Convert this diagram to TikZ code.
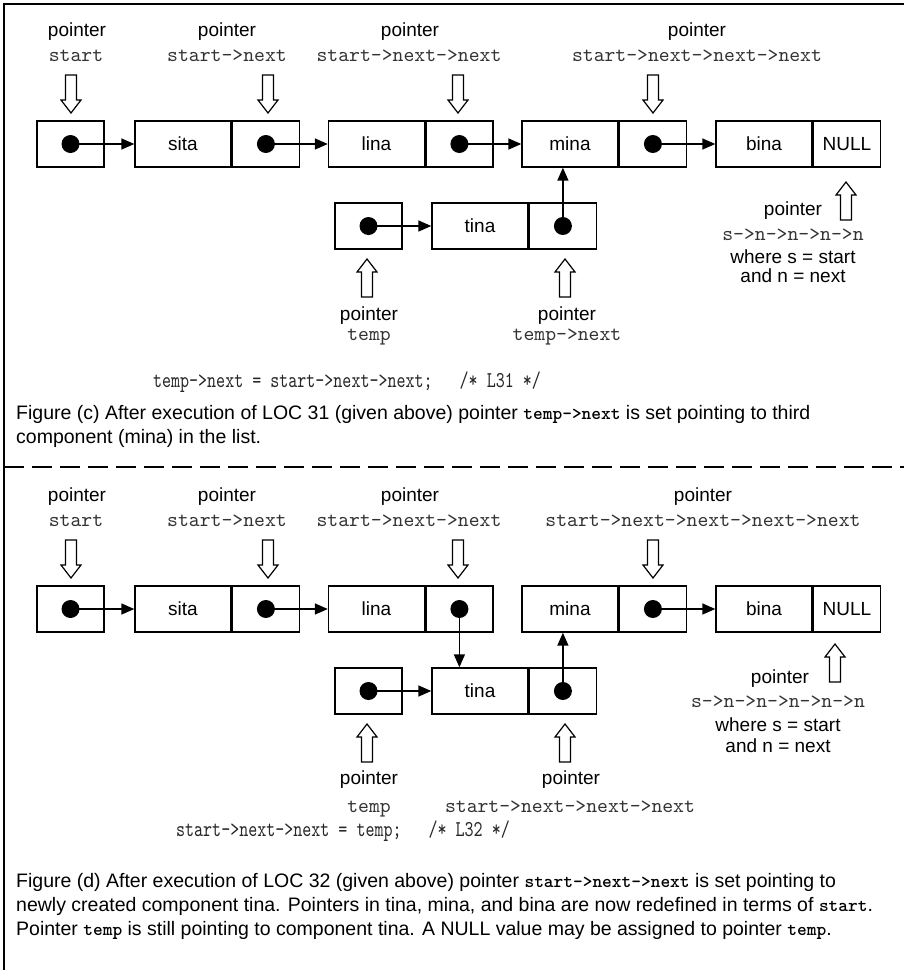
\documentclass[tikz,border=0pt]{standalone}
\usepackage{fontspec}
\setmainfont{Liberation Sans}
\newfontfamily\lmono{lmmono10-regular.otf}
\newfontfamily\codefont[FakeStretch=0.76]{lmmono10-regular.otf}
\newfontfamily\capmono{lmmonolt10-bold.otf}
\usetikzlibrary{arrows.meta}
\tikzset{
  hdown/.pic={\draw[line width=1.2pt, fill=white] (-5.5,0) -- (-5.5,25) -- (-10,25) -- (0,38) -- (10,25) -- (5.5,25) -- (5.5,0) -- cycle;},
  hup/.pic={\draw[line width=1.2pt, fill=white] (-5.5,0) -- (-5.5,-25) -- (-10,-25) -- (0,-38) -- (10,-25) -- (5.5,-25) -- (5.5,0) -- cycle;}
}
\newcommand{\cm}[1]{{\capmono\fontsize{18.5}{20}\selectfont #1}}
\begin{document}
\begin{tikzpicture}[x=1pt,y=-1pt,
  cell/.style={draw, line width=1.4pt, minimum height=46pt, inner sep=0pt, font=\fontsize{19}{22}\selectfont},
  dcell/.style={cell, minimum width=96pt},
  pcell/.style={cell, minimum width=67pt},
  dot/.style={circle, fill=black, minimum size=18pt, inner sep=0pt},
  ptr/.style={line width=1.5pt, -{Triangle[length=13pt,width=11pt]}},
  lab/.style={anchor=base, inner sep=0pt, font=\fontsize{19}{22}\selectfont},
  mlab/.style={anchor=base, inner sep=0pt, text=black!80, font=\lmono\fontsize{20.7}{22}\selectfont},
  code/.style={anchor=base, inner sep=0pt, text=black!85, font=\codefont\fontsize{22.6}{24}\selectfont},
  capt/.style={anchor=base west, inner sep=0pt, font=\fontsize{19.5}{22}\selectfont},
]
\useasboundingbox (0,0) rectangle (904,970);
% frame and separator
\draw[line width=2pt] (4,970) -- (4,4) -- (904,4);
\draw[line width=2.5pt, dash pattern=on 20pt off 8pt] (4,467) -- (904,467);

% ================= TOP PANEL =================
\node[lab] (tp1) at (77,36) {pointer};
\node[mlab] (tm1) at (76,61) {start};
\node[lab] (tp2) at (227,36) {pointer};
\node[mlab] (tm2) at (227,61) {start->next};
\node[lab] (tp3) at (410,36) {pointer};
\node[mlab] (tm3) at (409,61) {start->next->next};
\node[lab] (tp4) at (697,36) {pointer};
\node[mlab] (tm4) at (697,61) {start->next->next->next};
\pic at (71,75) {hdown};
\pic at (268,75) {hdown};
\pic at (458,75) {hdown};
\pic at (653,75) {hdown};

\node[pcell] (st1) at (70.5,144) {};
\node[dcell] (sitaD1) at (183,144) {sita};
\node[pcell, anchor=west] (sitaP1) at (sitaD1.east) {};
\node[dcell] (linaD1) at (376.5,144) {lina};
\node[pcell, anchor=west] (linaP1) at (linaD1.east) {};
\node[dcell] (minaD1) at (570,144) {mina};
\node[pcell, anchor=west] (minaP1) at (minaD1.east) {};
\node[dcell] (binaD1) at (764,144) {bina};
\node[pcell, anchor=west] (binaP1) at (binaD1.east) {NULL};
\node[pcell] (temp1) at (368.5,226) {};
\node[dcell] (tinaD1) at (480,226) {tina};
\node[pcell, anchor=west] (tinaP1) at (tinaD1.east) {};

\node[dot] (dst1) at (st1.center) {};
\node[dot] (dsita1) at (sitaP1.center) {};
\node[dot] (dlina1) at (linaP1.center) {};
\node[dot] (dmina1) at (minaP1.center) {};
\node[dot] (dtemp1) at (temp1.center) {};
\node[dot] (dtina1) at (tinaP1.center) {};

\draw[ptr] (dst1.center) -- (sitaD1.west);
\draw[ptr] (dsita1.center) -- (linaD1.west);
\draw[ptr] (dlina1.center) -- (minaD1.west);
\draw[ptr] (dmina1.center) -- (binaD1.west);
\draw[ptr] (dtemp1.center) -- (tinaD1.west);
\draw[ptr] (dtina1.center) -- (dtina1 |- minaD1.south);

\pic at (367,297) {hup};
\pic at (565,297) {hup};
\pic at (846,220) {hup};
\node[lab] (tp5) at (369,320) {pointer};
\node[mlab] (tm5) at (369,340) {temp};
\node[lab] (tp6) at (567,320) {pointer};
\node[mlab] (tm6) at (567,340) {temp->next};
\node[lab] (tp7) at (793,215) {pointer};
\node[mlab] (tm7) at (793,240) {s->n->n->n->n};
\node[lab] (tw1) at (793,263) {where s = start};
\node[lab] (ta1) at (793,282) {and n = next};

\node[code] (code1) at (347,387) {temp->next~=~start->next->next;~~~/*~L31~*/};
\node[capt] (c1a) at (16,419) {Figure (c) After execution of LOC 31 (given above) pointer \cm{temp->next} is set pointing to third};
\node[capt] (c1b) at (16,443) {component (mina) in the list.};

% ================= BOTTOM PANEL =================
\node[lab] (bp1) at (77,501) {pointer};
\node[mlab] (bm1) at (76,526) {start};
\node[lab] (bp2) at (227,501) {pointer};
\node[mlab] (bm2) at (227,526) {start->next};
\node[lab] (bp3) at (410,501) {pointer};
\node[mlab] (bm3) at (409,526) {start->next->next};
\node[lab] (bp4) at (703,501) {pointer};
\node[mlab] (bm4) at (703,526) {start->next->next->next->next};
\pic at (71,540) {hdown};
\pic at (268,540) {hdown};
\pic at (458,540) {hdown};
\pic at (653,540) {hdown};

\node[pcell] (st2) at (70.5,609) {};
\node[dcell] (sitaD2) at (183,609) {sita};
\node[pcell, anchor=west] (sitaP2) at (sitaD2.east) {};
\node[dcell] (linaD2) at (376.5,609) {lina};
\node[pcell, anchor=west] (linaP2) at (linaD2.east) {};
\node[dcell] (minaD2) at (570,609) {mina};
\node[pcell, anchor=west] (minaP2) at (minaD2.east) {};
\node[dcell] (binaD2) at (764,609) {bina};
\node[pcell, anchor=west] (binaP2) at (binaD2.east) {NULL};
\node[pcell] (temp2) at (368.5,691) {};
\node[dcell] (tinaD2) at (480,691) {tina};
\node[pcell, anchor=west] (tinaP2) at (tinaD2.east) {};

\node[dot] (dst2) at (st2.center) {};
\node[dot] (dsita2) at (sitaP2.center) {};
\node[dot] (dlina2) at (linaP2.center) {};
\node[dot] (dmina2) at (minaP2.center) {};
\node[dot] (dtemp2) at (temp2.center) {};
\node[dot] (dtina2) at (tinaP2.center) {};

\draw[ptr] (dst2.center) -- (sitaD2.west);
\draw[ptr] (dsita2.center) -- (linaD2.west);
\draw[ptr] (dlina2.center) -- (dlina2 |- tinaD2.north);
\draw[ptr] (dmina2.center) -- (binaD2.west);
\draw[ptr] (dtemp2.center) -- (tinaD2.west);
\draw[ptr] (dtina2.center) -- (dtina2 |- minaD2.south);

\pic at (367,762) {hup};
\pic at (565,762) {hup};
\pic at (835,682) {hup};
\node[lab] (bp5) at (369,784) {pointer};
\node[mlab] (bm5) at (369,812) {temp};
\node[lab] (bp6) at (571,784) {pointer};
\node[mlab] (bm6) at (570,812) {start->next->next->next};
\node[lab] (bp7) at (780,683) {pointer};
\node[mlab] (bm7) at (778,707) {s->n->n->n->n->n};
\node[lab] (bw2) at (778,731) {where s = start};
\node[lab] (ba2) at (778,752) {and n = next};

\node[code] (code2) at (343,836) {start->next->next~=~temp;~~~/*~L32~*/};
\node[capt] (c2a) at (16,887) {Figure (d) After execution of LOC 32 (given above) pointer \cm{start->next->next} is set pointing to};
\node[capt] (c2b) at (16,911) {newly created component tina. Pointers in tina, mina, and bina are now redefined in terms of \cm{start}.};
\node[capt] (c2c) at (16,935) {Pointer \cm{temp} is still pointing to component tina. A NULL value may be assigned to pointer \cm{temp}.};
\end{tikzpicture}
\end{document}
